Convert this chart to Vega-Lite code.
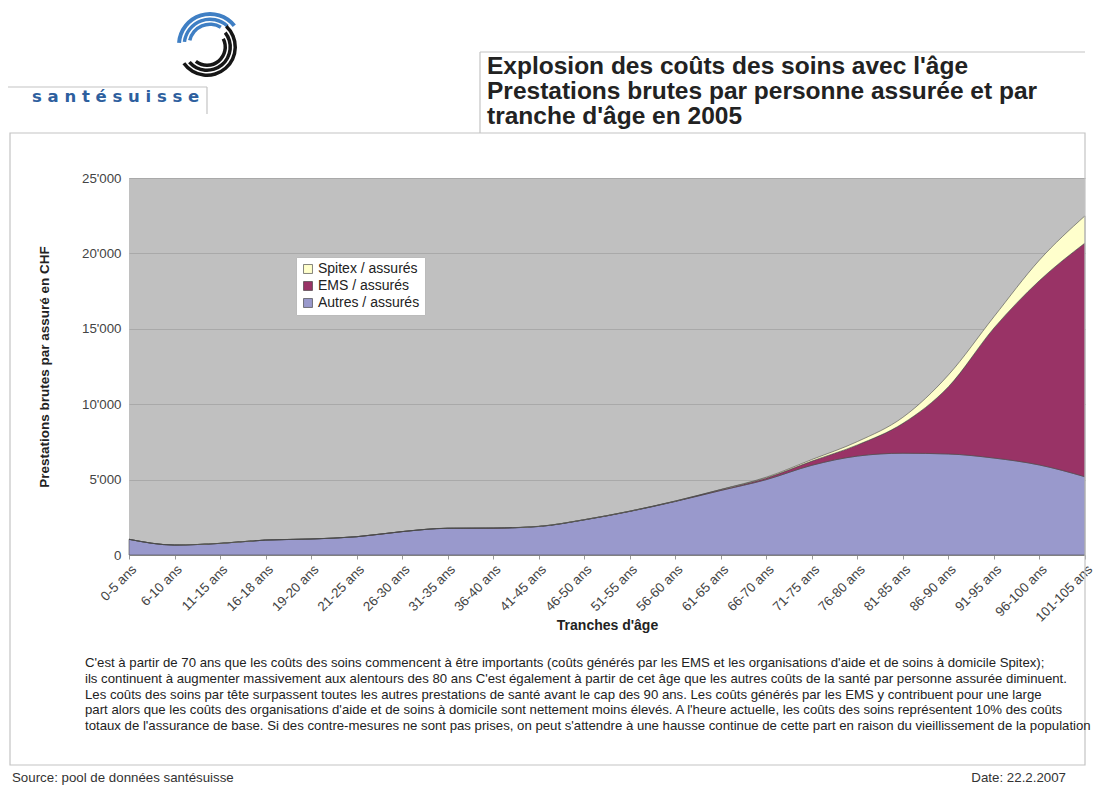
{
  "$schema": "https://vega.github.io/schema/vega-lite/v6.json",
  "width": 956,
  "height": 377,
  "autosize": {"type": "none"},
  "padding": {"left": 129, "top": 178, "right": 12, "bottom": 230},
  "background": "white",
  "config": {
    "view": {"fill": "#c0c0c0", "stroke": null},
    "font": "Liberation Sans"
  },
  "layer": [
    {
      "data": {"values": [
        {"age": "0-5 ans", "type": "Autres / assurés", "value": 1040},
        {"age": "6-10 ans", "type": "Autres / assurés", "value": 660},
        {"age": "11-15 ans", "type": "Autres / assurés", "value": 770},
        {"age": "16-18 ans", "type": "Autres / assurés", "value": 990},
        {"age": "19-20 ans", "type": "Autres / assurés", "value": 1060},
        {"age": "21-25 ans", "type": "Autres / assurés", "value": 1210},
        {"age": "26-30 ans", "type": "Autres / assurés", "value": 1550},
        {"age": "31-35 ans", "type": "Autres / assurés", "value": 1770},
        {"age": "36-40 ans", "type": "Autres / assurés", "value": 1780},
        {"age": "41-45 ans", "type": "Autres / assurés", "value": 1890},
        {"age": "46-50 ans", "type": "Autres / assurés", "value": 2330},
        {"age": "51-55 ans", "type": "Autres / assurés", "value": 2890},
        {"age": "56-60 ans", "type": "Autres / assurés", "value": 3550},
        {"age": "61-65 ans", "type": "Autres / assurés", "value": 4280},
        {"age": "66-70 ans", "type": "Autres / assurés", "value": 5000},
        {"age": "71-75 ans", "type": "Autres / assurés", "value": 5950},
        {"age": "76-80 ans", "type": "Autres / assurés", "value": 6560},
        {"age": "81-85 ans", "type": "Autres / assurés", "value": 6750},
        {"age": "86-90 ans", "type": "Autres / assurés", "value": 6700},
        {"age": "91-95 ans", "type": "Autres / assurés", "value": 6430},
        {"age": "96-100 ans", "type": "Autres / assurés", "value": 5970},
        {"age": "101-105 ans", "type": "Autres / assurés", "value": 5190},
        {"age": "0-5 ans", "type": "EMS / assurés", "value": 0},
        {"age": "6-10 ans", "type": "EMS / assurés", "value": 0},
        {"age": "11-15 ans", "type": "EMS / assurés", "value": 0},
        {"age": "16-18 ans", "type": "EMS / assurés", "value": 0},
        {"age": "19-20 ans", "type": "EMS / assurés", "value": 0},
        {"age": "21-25 ans", "type": "EMS / assurés", "value": 2},
        {"age": "26-30 ans", "type": "EMS / assurés", "value": 2},
        {"age": "31-35 ans", "type": "EMS / assurés", "value": 3},
        {"age": "36-40 ans", "type": "EMS / assurés", "value": 4},
        {"age": "41-45 ans", "type": "EMS / assurés", "value": 6},
        {"age": "46-50 ans", "type": "EMS / assurés", "value": 8},
        {"age": "51-55 ans", "type": "EMS / assurés", "value": 12},
        {"age": "56-60 ans", "type": "EMS / assurés", "value": 20},
        {"age": "61-65 ans", "type": "EMS / assurés", "value": 50},
        {"age": "66-70 ans", "type": "EMS / assurés", "value": 110},
        {"age": "71-75 ans", "type": "EMS / assurés", "value": 280},
        {"age": "76-80 ans", "type": "EMS / assurés", "value": 740},
        {"age": "81-85 ans", "type": "EMS / assurés", "value": 1980},
        {"age": "86-90 ans", "type": "EMS / assurés", "value": 4460},
        {"age": "91-95 ans", "type": "EMS / assurés", "value": 8620},
        {"age": "96-100 ans", "type": "EMS / assurés", "value": 12230},
        {"age": "101-105 ans", "type": "EMS / assurés", "value": 15500},
        {"age": "0-5 ans", "type": "Spitex / assurés", "value": 5},
        {"age": "6-10 ans", "type": "Spitex / assurés", "value": 5},
        {"age": "11-15 ans", "type": "Spitex / assurés", "value": 5},
        {"age": "16-18 ans", "type": "Spitex / assurés", "value": 5},
        {"age": "19-20 ans", "type": "Spitex / assurés", "value": 5},
        {"age": "21-25 ans", "type": "Spitex / assurés", "value": 5},
        {"age": "26-30 ans", "type": "Spitex / assurés", "value": 6},
        {"age": "31-35 ans", "type": "Spitex / assurés", "value": 6},
        {"age": "36-40 ans", "type": "Spitex / assurés", "value": 7},
        {"age": "41-45 ans", "type": "Spitex / assurés", "value": 8},
        {"age": "46-50 ans", "type": "Spitex / assurés", "value": 9},
        {"age": "51-55 ans", "type": "Spitex / assurés", "value": 10},
        {"age": "56-60 ans", "type": "Spitex / assurés", "value": 12},
        {"age": "61-65 ans", "type": "Spitex / assurés", "value": 20},
        {"age": "66-70 ans", "type": "Spitex / assurés", "value": 50},
        {"age": "71-75 ans", "type": "Spitex / assurés", "value": 100},
        {"age": "76-80 ans", "type": "Spitex / assurés", "value": 220},
        {"age": "81-85 ans", "type": "Spitex / assurés", "value": 400},
        {"age": "86-90 ans", "type": "Spitex / assurés", "value": 780},
        {"age": "91-95 ans", "type": "Spitex / assurés", "value": 750},
        {"age": "96-100 ans", "type": "Spitex / assurés", "value": 1360},
        {"age": "101-105 ans", "type": "Spitex / assurés", "value": 1800}
      ]},
      "mark": {"type": "area", "interpolate": "monotone", "stroke": "#4a4a4a", "strokeWidth": 0.6, "opacity": 1},
      "encoding": {
        "x": {
          "field": "age", "type": "ordinal", "sort": null,
          "scale": {"type": "point", "padding": 0},
          "axis": {
            "title": "Tranches d'âge",
            "titleFont": "Liberation Sans", "titleFontSize": 14, "titleFontWeight": "bold", "titleColor": "#222",
            "titlePadding": -5,
            "labelAngle": -45, "labelFontSize": 13.3, "labelColor": "#444", "labelPadding": 3,
            "tickSize": 4, "tickColor": "#999", "domainColor": "#999", "grid": false
          }
        },
        "y": {
          "field": "value", "type": "quantitative", "stack": "zero",
          "scale": {"domain": [0, 25000], "nice": false},
          "axis": {
            "title": "Prestations brutes par assuré en CHF",
            "titleFont": "Liberation Sans", "titleFontSize": 13.5, "titleFontWeight": "bold", "titleColor": "#222",
            "titlePadding": 30,
            "values": [0, 5000, 10000, 15000, 20000, 25000],
            "labelExpr": "replace(format(datum.value, ','), ',', \"'\")",
            "labelFontSize": 13.3, "labelColor": "#444", "labelPadding": 8,
            "tickSize": 0, "domain": false,
            "grid": true, "gridColor": "#a9a9a9", "gridWidth": 1
          }
        },
        "color": {
          "field": "type", "type": "nominal",
          "scale": {
            "domain": ["Spitex / assurés", "EMS / assurés", "Autres / assurés"],
            "range": ["#ffffcc", "#993366", "#9999cc"]
          },
          "legend": {
            "title": null, "orient": "none", "legendX": 167, "legendY": 79,
            "fillColor": "white", "strokeColor": "#bbbbbb", "padding": 5,
            "symbolType": "square", "symbolSize": 80, "symbolStrokeColor": "#333", "symbolStrokeWidth": 0.6,
            "labelFontSize": 14, "labelColor": "#222", "labelFont": "Liberation Sans", "rowPadding": 3, "labelOffset": 3
          }
        },
        "order": {"field": "type", "type": "ordinal", "sort": "ascending"}
      }
    },
    {
      "data": {"values": [{}]},
      "mark": {"type": "rect", "fillOpacity": 0, "stroke": "#c4c4c4", "strokeWidth": 1.2},
      "encoding": {"x": {"value": -119}, "x2": {"value": 956}, "y": {"value": -45}, "y2": {"value": 587}}
    },
    {
      "data": {"values": [{}]},
      "mark": {"type": "rule", "stroke": "#c4c4c4", "strokeWidth": 1.2},
      "encoding": {"x": {"value": 351}, "x2": {"value": 956}, "y": {"value": -126}}
    },
    {
      "data": {"values": [{}]},
      "mark": {"type": "rule", "stroke": "#c4c4c4", "strokeWidth": 1.2},
      "encoding": {"x": {"value": 351}, "y": {"value": -126}, "y2": {"value": -45}}
    },
    {
      "data": {"values": [{}]},
      "mark": {"type": "rule", "stroke": "#c4c4c4", "strokeWidth": 1.2},
      "encoding": {"x": {"value": -121}, "x2": {"value": 78}, "y": {"value": -91}}
    },
    {
      "data": {"values": [{}]},
      "mark": {"type": "rule", "stroke": "#c4c4c4", "strokeWidth": 1.2},
      "encoding": {"x": {"value": 78}, "y": {"value": -91}, "y2": {"value": -64}}
    },
    {
      "data": {"values": [{}]},
      "mark": {"type": "arc", "fill": "#3f7fc4", "radius": 33, "radius2": 29, "theta": -1.5, "theta2": 0.9},
      "encoding": {"x": {"value": 81}, "y": {"value": -133}}
    },
    {
      "data": {"values": [{}]},
      "mark": {"type": "arc", "fill": "#3f7fc4", "radius": 27.5, "radius2": 24, "theta": -1.45, "theta2": 0.75},
      "encoding": {"x": {"value": 81}, "y": {"value": -133}}
    },
    {
      "data": {"values": [{}]},
      "mark": {"type": "arc", "fill": "#3f7fc4", "radius": 22.5, "radius2": 19, "theta": -1.35, "theta2": 0.55},
      "encoding": {"x": {"value": 81}, "y": {"value": -133}}
    },
    {
      "data": {"values": [{}]},
      "mark": {"type": "arc", "fill": "#161616", "radius": 30, "radius2": 26.5, "theta": 0.75, "theta2": 4.1},
      "encoding": {"x": {"value": 78}, "y": {"value": -131}}
    },
    {
      "data": {"values": [{}]},
      "mark": {"type": "arc", "fill": "#161616", "radius": 25, "radius2": 21.5, "theta": 0.9, "theta2": 4.0},
      "encoding": {"x": {"value": 78}, "y": {"value": -131}}
    },
    {
      "data": {"values": [{}]},
      "mark": {"type": "arc", "fill": "#161616", "radius": 20, "radius2": 16.5, "theta": 1.1, "theta2": 3.8},
      "encoding": {"x": {"value": 78}, "y": {"value": -131}}
    },
    {
      "data": {"values": [{}]},
      "mark": {"type": "text", "text": "s a n t é s u i s s e", "font": "DejaVu Sans", "fontSize": 16.5, "fontWeight": "bold", "color": "#2e5f9e", "align": "left", "baseline": "middle"},
      "encoding": {"x": {"value": -97}, "y": {"value": -81}}
    },
    {
      "data": {"values": [{}]},
      "mark": {
        "type": "text",
        "text": "Explosion des coûts des soins avec l'âge\nPrestations brutes par personne assurée et par\ntranche d'âge en 2005",
        "lineBreak": "\n", "lineHeight": 25,
        "font": "Liberation Sans", "fontSize": 24.5, "fontWeight": "bold", "color": "#222", "align": "left", "baseline": "middle"
      },
      "encoding": {"x": {"value": 358}, "y": {"value": -111}}
    },
    {
      "data": {"values": [{}]},
      "mark": {
        "type": "text",
        "text": "C'est à partir de 70 ans que les coûts des soins commencent à être importants (coûts générés par les EMS et les organisations d'aide et de soins à domicile Spitex);\nils continuent à augmenter massivement aux alentours des 80 ans C'est également à partir de cet âge que les autres coûts de la santé par personne assurée diminuent.\nLes coûts des soins par tête surpassent toutes les autres prestations de santé avant le cap des 90 ans. Les coûts générés par les EMS y contribuent pour une large\npart alors que les coûts des organisations d'aide et de soins à domicile sont nettement moins élevés. A l'heure actuelle, les coûts des soins représentent 10% des coûts\ntotaux de l'assurance de base. Si des contre-mesures ne sont pas prises, on peut s'attendre à une hausse continue de cette part en raison du vieillissement de la population",
        "lineBreak": "\n", "lineHeight": 15.8,
        "font": "Liberation Sans", "fontSize": 13.2, "color": "#222", "align": "left", "baseline": "middle"
      },
      "encoding": {"x": {"value": -44}, "y": {"value": 485}}
    },
    {
      "data": {"values": [{}]},
      "mark": {"type": "text", "text": "Source: pool de données santésuisse", "font": "Liberation Sans", "fontSize": 13.3, "color": "#333", "align": "left", "baseline": "middle"},
      "encoding": {"x": {"value": -117}, "y": {"value": 600}}
    },
    {
      "data": {"values": [{}]},
      "mark": {"type": "text", "text": "Date: 22.2.2007", "font": "Liberation Sans", "fontSize": 13.3, "color": "#333", "align": "right", "baseline": "middle"},
      "encoding": {"x": {"value": 937}, "y": {"value": 600}}
    }
  ]
}
